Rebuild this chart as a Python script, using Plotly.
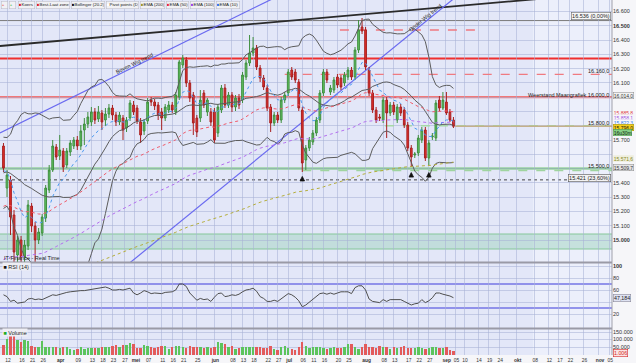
import numpy as np
import pandas as pd
import plotly.graph_objects as go

FONT = "Liberation Sans, Arial, sans-serif"

# ---------------- x axis (trading-day index, first visible candle = -1) ----------------
tick_text = ["12", "16", "21", "26", "apr", "09", "13", "18", "23", "27", "mei", "07", "11", "16", "21", "25",
             "jun", "08", "13", "18", "22", "27", "jul", "06", "11", "16", "20", "25", "aug", "08", "13", "17",
             "22", "27", "sep", "05", "10", "14", "19", "24", "okt", "08", "12", "17", "22", "26", "nov", "05"]
tick_days = [0, 4, 7, 10, 15, 20, 24, 27, 30, 33.3, 36.4, 40, 44, 47, 50, 54,
             59, 64, 67, 70, 74, 77, 80, 84, 87, 90, 94, 97, 102, 107, 110, 114,
             117, 120, 124.8, 127.6, 130, 134, 137, 140, 145, 150, 154, 157, 160, 164, 168.4, 171.3]
month_labels = ["apr", "mei", "jun", "jul", "aug", "sep", "okt", "nov"]

# ---------------- candles (Koers) ----------------
open_ = [15658, 15364, 15420, 15175, 14895, 15000, 14881, 14958, 15238, 15098,
         15000, 15049, 15154, 15350, 15490, 15651, 15588, 15623, 15525, 15616,
         15658, 15700, 15658, 15770, 15812, 15826, 15896, 15847, 15889, 15840,
         15882, 15924, 15875, 15826, 15854, 15784, 15854, 15945, 15924, 15826,
         15763, 15833, 15980, 15966, 15945, 15896, 15854, 15910, 15945, 15896,
         16001, 16225, 16260, 16099, 16015, 15854, 15854, 16029, 15896, 15896,
         15896, 15749, 15910, 16064, 15945, 16015, 15931, 15994, 15980, 16141,
         16239, 16309, 16344, 16204, 16134, 16064, 15931, 15819, 15875, 15840,
         15980, 16029, 16190, 16176, 16106, 15910, 15560, 15644, 15686, 15749,
         15840, 16029, 16176, 16036, 16050, 16141, 16134, 16099, 16141, 16190,
         16141, 16330, 16491, 16470, 16190, 16029, 15910, 15861, 15840, 15980,
         15889, 15945, 15840, 15931, 15910, 15805, 15644, 15595, 15609, 15700,
         15770, 15574, 15721, 15714, 15980, 15924, 15966, 15896, 15840]
close_ = [15504, 15455, 15161, 14916, 15000, 14881, 14965, 15245, 15098, 15000,
          15056, 15161, 15364, 15490, 15658, 15581, 15630, 15511, 15623, 15679,
          15700, 15658, 15763, 15812, 15861, 15896, 15840, 15896, 15826, 15882,
          15924, 15875, 15826, 15875, 15770, 15840, 15959, 15896, 15833, 15735,
          15826, 15966, 15966, 15938, 15875, 15854, 15931, 15945, 15910, 16015,
          16246, 16274, 16099, 15994, 15819, 15756, 15980, 15945, 15980, 15826,
          15700, 15931, 16064, 15945, 16015, 15931, 15994, 15945, 16155, 16239,
          16309, 16344, 16211, 16134, 16071, 15924, 15819, 15875, 15840, 15980,
          16015, 16176, 16141, 16120, 15924, 15539, 15644, 15700, 15749, 15840,
          16029, 16176, 16120, 16064, 16120, 16085, 16071, 16155, 16190, 16141,
          16330, 16470, 16463, 16211, 16029, 15910, 15840, 15854, 15980, 15889,
          15945, 15896, 15931, 15889, 15805, 15644, 15581, 15602, 15714, 15770,
          15574, 15679, 15728, 15959, 15924, 15980, 15889, 15840, 15796]
high_ = [15679, 15490, 15448, 15210, 15028, 15028, 15000, 15280, 15259, 15126,
         15084, 15182, 15385, 15525, 15700, 15672, 15735, 15644, 15644, 15700,
         15721, 15728, 15805, 15854, 15896, 15931, 15924, 15938, 15910, 15924,
         15952, 15945, 15896, 15896, 15875, 15861, 15980, 15973, 15945, 15854,
         15847, 15994, 16001, 15987, 15966, 15924, 15952, 15973, 15966, 16036,
         16260, 16295, 16281, 16120, 16036, 15875, 16050, 16050, 15994, 15924,
         15924, 15952, 16085, 16092, 16036, 16036, 16015, 16022, 16176, 16260,
         16435, 16421, 16365, 16225, 16155, 16085, 15952, 15896, 15896, 16001,
         16036, 16197, 16211, 16197, 16127, 15931, 15665, 15721, 15770, 15861,
         16050, 16197, 16197, 16085, 16141, 16162, 16155, 16176, 16211, 16211,
         16351, 16540, 16554, 16491, 16211, 16050, 15931, 15882, 16001, 16001,
         15966, 15966, 15952, 15952, 15931, 15826, 15665, 15616, 15735, 15791,
         15791, 15700, 15749, 15980, 16008, 16036, 16036, 15917, 15861]
low_ = [15476, 15301, 15035, 14820, 14820, 14820, 14820, 14930, 15056, 14820,
        14972, 15028, 15126, 15329, 15476, 15560, 15560, 15476, 15504, 15588,
        15637, 15630, 15630, 15665, 15784, 15798, 15812, 15826, 15770, 15798,
        15854, 15840, 15798, 15805, 15700, 15756, 15833, 15875, 15812, 15679,
        15735, 15812, 15938, 15910, 15840, 15770, 15833, 15889, 15889, 15875,
        15980, 16204, 16071, 15966, 15735, 15721, 15826, 15924, 15868, 15798,
        15679, 15721, 15889, 15924, 15924, 15896, 15903, 15917, 15959, 16120,
        16218, 16288, 16190, 16106, 16050, 15903, 15756, 15798, 15819, 15819,
        15959, 16008, 16120, 16099, 15903, 15476, 15490, 15623, 15665, 15728,
        15819, 16008, 16099, 16015, 16029, 16064, 16050, 16078, 16120, 16120,
        16120, 16309, 16442, 16190, 16008, 15889, 15819, 15833, 15819, 15714,
        15868, 15875, 15819, 15868, 15784, 15623, 15511, 15574, 15588, 15679,
        15553, 15518, 15700, 15693, 15903, 15910, 15875, 15826, 15784]

# closes before the first visible candle (only used to seed the Bollinger window)
hist_close = [15320, 15380, 15300, 15260, 15350, 15420, 15480, 15400, 15330, 15390,
              15450, 15520, 15580, 15610, 15560, 15620, 15650, 15600, 15680]

# EMA starting values just before the first visible candle
ema_seed = {10: 15480, 50: 15225, 100: 14850, 200: 14650}

# ---------------- RSI (14) ----------------
rsi = [52, 49, 41, 43, 38, 39, 40, 45, 46, 44,
       45, 44, 47, 50, 52, 51, 53, 55, 56, 57,
       58, 58, 59, 59, 60, 61, 62, 64, 64, 65,
       63, 60, 60, 61, 60, 61, 63, 55, 52, 55,
       59, 57, 54, 55, 54, 54, 56, 57, 57, 60,
       70, 70, 66, 55, 49, 43, 46, 44, 45, 41,
       48, 54, 55, 49, 50, 52, 51, 53, 57, 60,
       61, 63, 58, 49, 46, 41, 41, 43, 41, 45,
       50, 54, 52, 48, 42, 32, 35, 40, 45, 50,
       54, 55, 53, 55, 53, 55, 57, 57, 57, 54,
       64, 67, 67, 60, 45, 41, 40, 39, 44, 41,
       44, 44, 43, 44, 41, 38, 35, 37, 38, 44,
       39, 42, 47, 55, 55, 53, 52, 50, 47.184]

# ---------------- Volume ----------------
volume = [64000, 104000, 127000, 127000, 98000, 82000, 100000, 93000, 60000, 49000,
          53000, 93000, 53000, 49000, 49000, 53000, 44000, 53000, 49000, 38000,
          30000, 38000, 49000, 38000, 42000, 42000, 42000, 44000, 53000, 49000,
          49000, 56000, 64000, 49000, 64000, 64000, 76000, 67000, 42000, 44000,
          64000, 58000, 49000, 44000, 53000, 60000, 60000, 38000, 49000, 60000,
          60000, 53000, 44000, 60000, 53000, 53000, 49000, 44000, 49000, 44000,
          49000, 82000, 78000, 67000, 53000, 60000, 38000, 44000, 49000, 53000,
          53000, 49000, 49000, 53000, 44000, 44000, 58000, 38000, 33000, 49000,
          60000, 44000, 38000, 33000, 49000, 82000, 60000, 44000, 49000, 53000,
          53000, 44000, 38000, 42000, 49000, 44000, 44000, 49000, 67000, 67000,
          49000, 38000, 49000, 67000, 53000, 53000, 44000, 60000, 53000, 53000,
          38000, 53000, 44000, 49000, 60000, 44000, 44000, 44000, 49000, 44000,
          38000, 44000, 49000, 49000, 44000, 44000, 49000, 33000, 25000]

# ---------------- drawn levels / trend lines / pivots ----------------
level_16536 = 16536
level_dash_high = 16470
level_resist_red = 16270
level_16160 = 16160
level_month_res = 16000
level_15800 = 15800
level_last = 15796
level_support_green = 15500
level_dash_green_low = 15486
level_fib = 15421
zone_low, zone_high = 14937, 15042

black_trend = [(-2.0, 16358), (172.0, 16732)]
upper_wedge = [(-2.0, 15749), (85.0, 16803)]
lower_wedge = [(30.0, 14741), (130.0, 16748)]

pivot_days = [84, 115, 120]
pivot_price = [15445, 15472, 15472]

value_labels_axis = [  # (text, price, text colour, background, border)
    ("16.014,0", 16014, "#333333", "#f2f2f2", "#8a8a8a"),
    ("15.885,8", 15893, "#e03a3a", "rgba(245,245,250,0.95)", "rgba(0,0,0,0)"),
    ("15.858,1", 15858, "#a050e0", "rgba(245,245,250,0.95)", "rgba(0,0,0,0)"),
    ("15.822,3", 15823, "#2f7de8", "rgba(245,245,250,0.95)", "rgba(0,0,0,0)"),
    ("15.796,0", 15789, "#111111", "#f4cf1c", "#a88f00"),
    ("16u30m", 15753, "#112211", "#86d086", "#4a9a4a"),
    ("15.571,6", 15571.6, "#8a8a1e", "#eeeedd", "rgba(0,0,0,0)"),
    ("15.509,7", 15509.7, "#333333", "#e4e4e4", "#8a8a8a"),
]
# price tick labels hidden behind the value boxes
covered_ticks = [15500, 15600, 15800, 15900, 16000]

# ---------------- derived series ----------------
n = len(close_)
days = np.arange(n) - 1

all_close = pd.Series(hist_close + close_, dtype=float)
k = len(hist_close)
bb_mid = all_close.rolling(20).mean().iloc[k:].values
bb_sd = all_close.rolling(20).std(ddof=0).iloc[k:].values
bb_up = bb_mid + 2 * bb_sd
bb_lo = bb_mid - 2 * bb_sd


def ema(period, seed):
    a = 2.0 / (period + 1)
    v = seed
    out = []
    for c in close_:
        v = v + a * (c - v)
        out.append(v)
    return np.array(out)


ema_cols = {200: "#b5ae3c", 50: "#f05a6a", 100: "#b46ef0", 10: "#4b9af0"}

# ---------------- figure ----------------
fig = go.Figure()

for series in (bb_up, bb_mid, bb_lo):
    fig.add_trace(go.Scatter(x=days, y=series, mode="lines", line=dict(color="#5c5c5c", width=1),
                             hoverinfo="skip", showlegend=False, xaxis="x", yaxis="y"))
for p in (200, 100, 50, 10):
    fig.add_trace(go.Scatter(x=days, y=ema(p, ema_seed[p]), mode="lines",
                             line=dict(color=ema_cols[p], width=1, dash="dot"),
                             hoverinfo="skip", showlegend=False, xaxis="x", yaxis="y"))

fig.add_trace(go.Candlestick(
    x=days, open=open_, high=high_, low=low_, close=close_,
    increasing=dict(line=dict(color="#3f8f3f", width=1), fillcolor="#62c462"),
    decreasing=dict(line=dict(color="#a82020", width=1), fillcolor="#e2302a"),
    whiskerwidth=0, showlegend=False, xaxis="x", yaxis="y"))

fig.add_trace(go.Scatter(x=pivot_days, y=pivot_price, mode="markers",
                         marker=dict(symbol="arrow-up", size=4.5, color="#111111",
                                     line=dict(color="#111111", width=0.8)),
                         showlegend=False, hoverinfo="skip", xaxis="x", yaxis="y"))

fig.add_trace(go.Scatter(x=np.arange(len(rsi)) - 1, y=rsi, mode="lines",
                         line=dict(color="#4f4f4f", width=1), showlegend=False,
                         hoverinfo="skip", xaxis="x2", yaxis="y2"))

vol_cols = ["#5cc45c" if c >= o else "#e35b5b" for o, c in zip(open_, close_)]
fig.add_trace(go.Bar(x=np.arange(len(volume)) - 1, y=volume, marker=dict(color=vol_cols, line=dict(width=0)),
                     width=0.68, showlegend=False, hoverinfo="skip", xaxis="x3", yaxis="y3"))

# ---------------- layout ----------------
H_PLOT = 355.0


def pf(px):
    return 1 - px / H_PLOT


price_dom = [pf(262), 1.0]
rsi_dom = [pf(328), pf(263)]
vol_dom = [0.0, pf(329)]

X_RANGE = [-1.99, 172.1]
grid_col = "rgba(168,176,214,0.55)"
xcommon = dict(range=X_RANGE, tickvals=tick_days, showgrid=True, gridcolor=grid_col, gridwidth=1,
               zeroline=False, showline=False, ticks="", fixedrange=True, tickangle=0)
bottom_text = ["<b>%s</b>" % t if t in month_labels else t for t in tick_text]

price_ticks = list(range(15000, 16601, 100))
price_text = []
for v in price_ticks:
    s = f"{v:,}".replace(",", ".")
    if v in covered_ticks:
        s = ""
    elif v in (15000, 16500):
        s = "<b>%s</b>" % s
    price_text.append(s)

axis_font = dict(family=FONT, size=5.5, color="#333333")

fig.update_layout(
    width=636, height=363,
    margin=dict(l=0, r=24, t=0, b=8),
    paper_bgcolor="#f6f6f9",
    plot_bgcolor="#e3e7f8",
    separators=",.",
    font=dict(family=FONT, size=6, color="#333333"),
    showlegend=False,
    xaxis=dict(**xcommon, anchor="y", showticklabels=False, rangeslider=dict(visible=False)),
    xaxis2=dict(**xcommon, anchor="y2", showticklabels=False, matches="x"),
    xaxis3=dict(**xcommon, anchor="y3", matches="x", ticktext=bottom_text,
                tickfont=dict(family=FONT, size=4.9, color="#333333"),
                ticklabelshift=1, ticklabelstandoff=1),
    yaxis=dict(domain=price_dom, range=[14846, 16680], side="right", tickvals=price_ticks,
               ticktext=price_text, tickfont=axis_font, showgrid=True, gridcolor=grid_col,
               zeroline=False, fixedrange=True),
    yaxis2=dict(domain=rsi_dom, range=[-3.3, 105], side="right", tickvals=[20, 40, 60, 80, 100],
                ticktext=["20", "", "60", "80", "<b>100</b>"], tickfont=axis_font, showgrid=True,
                gridcolor=grid_col, zeroline=False, fixedrange=True),
    yaxis3=dict(domain=vol_dom, range=[-3300, 170000], side="right", tickvals=[50000, 100000, 150000],
                ticktext=["50.000", "100.000", "150.000"], tickfont=axis_font, showgrid=True,
                gridcolor=grid_col, zeroline=False, fixedrange=True),
    bargap=0,
)

shapes = []
shapes.append(dict(type="rect", xref="x", yref="paper", x0=149.6, x1=X_RANGE[1], y0=0, y1=1,
                   fillcolor="#ecefFb", line=dict(width=0), layer="below"))


def hline(y, color, width, dash="solid", x0=None, yref="y"):
    if x0 is None:
        return dict(type="line", xref="paper", yref=yref, x0=0, x1=1, y0=y, y1=y,
                    line=dict(color=color, width=width, dash=dash), layer="between")
    return dict(type="line", xref="x", yref=yref, x0=x0, x1=X_RANGE[1], y0=y, y1=y,
                line=dict(color=color, width=width, dash=dash), layer="between")


shapes.append(dict(type="rect", xref="paper", yref="y", x0=0, x1=1, y0=zone_low, y1=zone_high,
                   fillcolor="rgba(168,214,196,0.55)", line=dict(width=0), layer="between"))
shapes.append(hline(zone_low, "#86c79a", 1.2))
shapes.append(hline(zone_high, "#86c79a", 1.2))

shapes.append(hline(level_16536, "#7a7a7a", 1))
shapes.append(dict(type="line", xref="x", yref="y", x0=94.7, x1=135.4, y0=level_dash_high, y1=level_dash_high,
                   line=dict(color="#f07a80", width=1.3, dash="dash"), layer="between"))
shapes.append(hline(level_resist_red, "#ef2f2f", 2))
shapes.append(hline(level_16160, "#f07a80", 1.3, "dash", x0=79.0))
shapes.append(hline(level_month_res, "#f27878", 2.4))
shapes.append(hline(level_15800, "#a6d9a6", 1.6, "dash", x0=107.5))
shapes.append(hline(level_last, "#c4b08a", 1.5, x0=127.5))
shapes.append(hline(level_support_green, "#74c774", 2))
shapes.append(hline(level_dash_green_low, "#9fd49f", 1.4, "dash", x0=84.0))
shapes.append(hline(level_fib, "#444444", 1, "dot"))

for (xa, ya), (xb, yb) in (black_trend,):
    shapes.append(dict(type="line", xref="x", yref="y", x0=xa, y0=ya, x1=xb, y1=yb,
                       line=dict(color="#2a2a2a", width=1.8), layer="between"))
for (xa, ya), (xb, yb) in (upper_wedge, lower_wedge):
    shapes.append(dict(type="line", xref="x", yref="y", x0=xa, y0=ya, x1=xb, y1=yb,
                       line=dict(color="#6a6af0", width=1.2), layer="between"))

shapes.append(hline(70, "#7474e6", 1.4, yref="y2"))
shapes.append(hline(30, "#7474e6", 1.4, yref="y2"))

for yy in (pf(262.5), pf(328.5)):
    shapes.append(dict(type="line", xref="paper", yref="paper", x0=0, x1=1, y0=yy, y1=yy,
                       line=dict(color="#9a9aa6", width=2), layer="above"))
shapes.append(dict(type="line", xref="paper", yref="paper", x0=1, x1=1, y0=0, y1=1,
                   line=dict(color="#a0a0ab", width=1), layer="above"))
fig.update_layout(shapes=shapes)

ann = []
small = dict(family=FONT, size=5.5, color="#222222")

legend_items = [
    (1, 7, "<span style='color:#d22'>+</span>"),
    (9, 15, "<span style='color:#2a2'>+</span>"),
    (18, 34, "<span style='color:#d22'>■</span>Koers"),
    (36, 69, "<span style='color:#d22'>■</span>Best-Laat zone"),
    (71, 104, "<span style='color:#111'>■</span>Bollinger (20.2)"),
    (106, 138, "<span style='color:#fff'>■</span>Pivot points (D)"),
    (140, 164, "<span style='color:#a09a20'>■</span>EMA (200)"),
    (166, 188, "<span style='color:#e8283a'>■</span>EMA (50)"),
    (190, 214, "<span style='color:#9a40e8'>■</span>EMA (100)"),
    (216, 239, "<span style='color:#2f6ff0'>■</span>EMA (10)"),
]
for x0p, x1p, txt in legend_items:
    ann.append(dict(xref="paper", yref="paper", x=x0p / 612.0, y=1, xanchor="left", yanchor="top",
                    yshift=-1, text=txt, showarrow=False, width=x1p - x0p - 1, height=6, align="left",
                    font=dict(family=FONT, size=4.4, color="#222"),
                    bgcolor="#f1f1f4", bordercolor="#b8b8c4", borderwidth=0.5, borderpad=0.3))

ann.append(dict(xref="paper", yref="paper", x=0.004, y=pf(258), xanchor="left", yanchor="middle",
                text="IT-Finance - Real Time", showarrow=False, font=small))
ann.append(dict(xref="paper", yref="paper", x=0.003, y=pf(266.5), xanchor="left", yanchor="middle",
                text="<span style='color:#111'>■</span> RSI (14)", showarrow=False, font=small,
                bgcolor="#eeeef4", borderpad=0.5))
ann.append(dict(xref="paper", yref="paper", x=0.003, y=pf(332), xanchor="left", yanchor="middle",
                text="<span style='color:#2a2'>■</span> Volume", showarrow=False, font=small,
                bgcolor="#eeeef4", borderpad=0.5))

ann.append(dict(xref="x", yref="y", x=36.4, y=16240, text="Boven Wig trend", showarrow=False,
                textangle=-26, font=dict(family=FONT, size=5.5, color="#2a2a2a")))
ann.append(dict(xref="x", yref="y", x=118.8, y=16555, text="Onder Wig trend", showarrow=False,
                textangle=-39, font=dict(family=FONT, size=5.5, color="#2a2a2a")))

inner = [
    ("16.536 (0,00%)", 16566, "#f7f7f7", "#666666"),
    ("16.160,0", 16185, None, None),
    ("Weerstand Maangrafiek 16.000,0", 16018, None, None),
    ("15.800,0", 15819, None, None),
    ("15.500,0", 15521, None, None),
    ("15.421 (23,60%)", 15436, "#f2f2f2", "#555555"),
]
for txt, yv, bg, bc in inner:
    d = dict(xref="paper", yref="y", x=1, y=yv, xanchor="right", yanchor="middle", xshift=-1,
             text=txt, showarrow=False, font=dict(family=FONT, size=5.5, color="#222222"))
    if bg:
        d.update(bgcolor=bg, bordercolor=bc, borderwidth=0.6, borderpad=0.5)
    ann.append(d)

for txt, yv, col, bg, bc in value_labels_axis:
    ann.append(dict(xref="paper", yref="y", x=1, y=yv, xanchor="left", yanchor="middle", xshift=1,
                    text=txt, showarrow=False, font=dict(family=FONT, size=5, color=col),
                    bgcolor=bg, bordercolor=bc, borderwidth=0.5, borderpad=0.2))
ann.append(dict(xref="paper", yref="y2", x=1, y=rsi[-1], xanchor="left", yanchor="middle", xshift=1,
                text=f"{rsi[-1]:.3f}".replace(".", ","), showarrow=False,
                font=dict(family=FONT, size=5.3, color="#222"), bgcolor="#dfe2f2",
                bordercolor="#8a8a9a", borderwidth=0.6, borderpad=0.4))
ann.append(dict(xref="paper", yref="y3", x=1, y=10000, xanchor="left", yanchor="middle", xshift=1,
                text="1.006", showarrow=False, font=dict(family=FONT, size=5.3, color="#d42a2a"),
                bgcolor="#fbe4e4", bordercolor="#d42a2a", borderwidth=0.6, borderpad=0.4))

fig.update_layout(annotations=ann)
fig.write_html("out.html")
